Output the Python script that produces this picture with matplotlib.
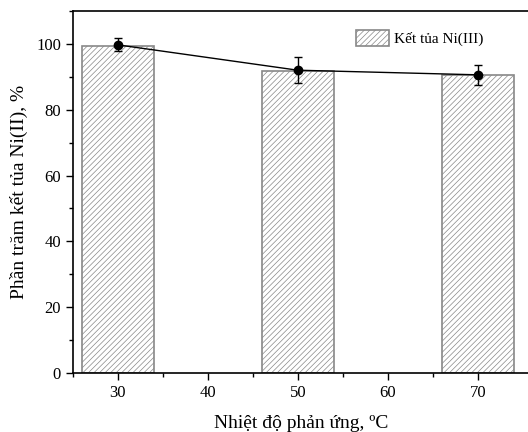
import matplotlib
matplotlib.use('Agg')
import matplotlib.pyplot as plt
from matplotlib.ticker import MultipleLocator

plt.rcParams['font.family'] = ['Liberation Serif', 'DejaVu Serif']
plt.rcParams['hatch.color'] = '#888888'
plt.rcParams['hatch.linewidth'] = 0.5

# data
temps = [30, 50, 70]
bar_values = [99.5, 91.8, 90.6]
point_values = [99.7, 92.0, 90.6]
errors = [2.0, 4.0, 3.0]

fig = plt.figure(figsize=(5.28, 4.32), dpi=100)
ax = fig.add_axes([0.138, 0.1366, 0.864, 0.838])

ax.bar(temps, bar_values, width=8, color='white', edgecolor='#888888',
       linewidth=1.2, hatch='//////', label='Kết tủa Ni(III)', zorder=1)
ax.errorbar(temps, point_values, yerr=errors, fmt='-o', color='black',
            markersize=6, linewidth=1, elinewidth=1, capsize=3, zorder=3)

ax.set_xlim(25, 75.7)
ax.set_ylim(0, 110)
ax.xaxis.set_major_locator(MultipleLocator(10))
ax.set_xticks([25, 35, 45, 55, 65], minor=True)
ax.yaxis.set_major_locator(MultipleLocator(20))
ax.yaxis.set_minor_locator(MultipleLocator(10))
ax.tick_params(which='major', direction='out', length=5, width=1, labelsize=12)
ax.tick_params(which='minor', direction='out', length=3, width=1)
for s in ax.spines.values():
    s.set_linewidth(1.2)

ax.set_xlabel('Nhiệt độ phản ứng, ºC', fontsize=14, labelpad=10)
ax.set_ylabel('Phần trăm kết tủa Ni(II), %', fontsize=14, labelpad=6)

ax.legend(loc='upper right', frameon=False, fontsize=11,
          bbox_to_anchor=(0.93, 0.985), handlelength=2.2, handleheight=1.2,
          handletextpad=0.3)

fig.savefig('out.png', dpi=100)
